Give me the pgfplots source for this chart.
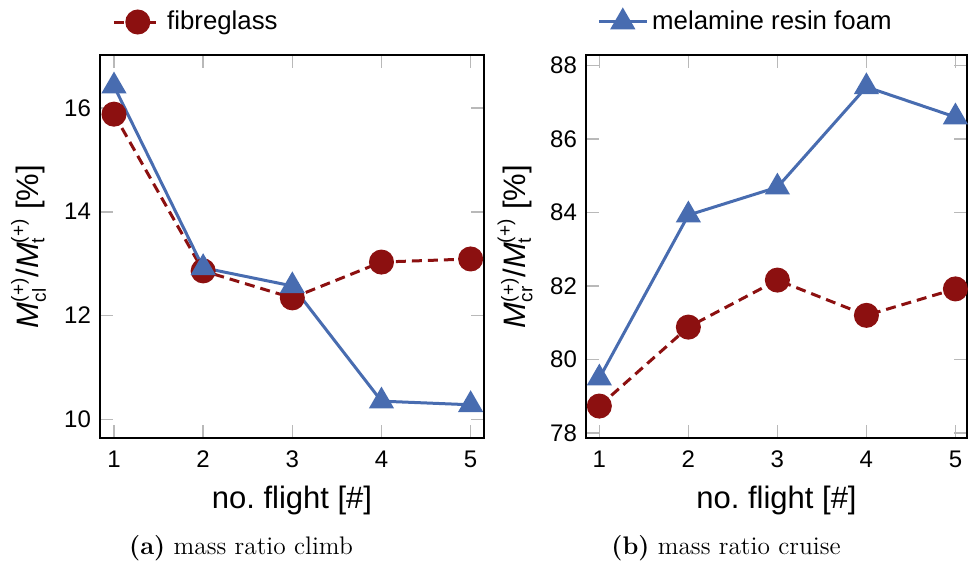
\documentclass[border=0pt]{standalone}
\usepackage{pgfplots}
\pgfplotsset{compat=1.18}
\usepackage{fontspec}
\newfontfamily\arial{Liberation Sans}
\definecolor{fgred}{RGB}{140,16,16}
\definecolor{mblue}{RGB}{72,108,176}
\pgfplotsset{
  myax/.style={
    scale only axis,
    height=191.5pt,
    axis line style={black, line width=0.6pt},
    tick style={gray!55, line width=0.8pt},
    major tick length=6.5pt,
    tick align=inside,
    xtick={1,2,3,4,5},
    xtick pos=both, ytick pos=both,
    /pgf/number format/assume math mode=true,
    tick label style={font=\arial\fontsize{12}{14}\selectfont},
    xticklabel style={yshift=-3pt},
    yticklabel style={xshift=-1pt},
    label style={font=\arial\fontsize{15.5}{17}\selectfont},
    xlabel={no.\ flight [\#]},
    xlabel style={at={(axis description cs:0.5,-0.162)}, anchor=center},
    ylabel style={at={(axis description cs:-0.186,0.5)}, anchor=center, rotate=0},
    legend style={draw=none, fill=none, font=\arial\fontsize{12.9}{14}\selectfont, inner sep=0pt},
    legend image code/.code={\draw[mark repeat=2,mark phase=2,##1] plot coordinates {(0cm,0cm)(0.42cm,0cm)(0.84cm,0cm)};},
  },
  fg/.style={fgred, line width=1.5pt, dash pattern=on 5pt off 3pt, mark=*, mark size=5.5pt, mark options={solid, fill=fgred, draw=fgred}},
  mf/.style={mblue, line width=1.5pt, solid, mark=triangle*, mark size=5.8pt, mark options={solid, fill=mblue, draw=mblue}},
}
\newcommand{\sm}[1]{\mbox{\arial\fontsize{9.5}{10}\selectfont #1}}
\begin{document}
\begin{tikzpicture}
\useasboundingbox (0,0) rectangle (485.5pt,281.5pt);
\begin{axis}[myax,
  at={(50pt,62.5pt)}, anchor=south west,
  width=192pt,
  xmin=0.843, xmax=5.15, ymin=9.64, ymax=17.02,
  ytick={10,12,14,16},
  ylabel={\textit{M}$^{\sm{(+)}}_{\sm{cl}}$/\textit{M}$^{\sm{(+)}}_{\sm{t}}$ [\%]},
  legend style={at={(axis description cs:0,1)}, anchor=west, xshift=6pt, yshift=16.5pt},
]
\addplot[fg] coordinates {(1,15.88) (2,12.86) (3,12.34) (4,13.03) (5,13.09)};
\addlegendentry{fibreglass}
\addplot[mf, forget plot] coordinates {(1,16.42) (2,12.92) (3,12.57) (4,10.35) (5,10.28)};
\end{axis}
\begin{axis}[myax,
  at={(293pt,62.5pt)}, anchor=south west,
  width=190.5pt,
  xmin=0.85, xmax=5.13, ymin=77.86, ymax=88.29,
  ytick={78,80,82,84,86,88},
  ylabel={\textit{M}$^{\sm{(+)}}_{\sm{cr}}$/\textit{M}$^{\sm{(+)}}_{\sm{t}}$ [\%]},
  legend style={at={(axis description cs:0,1)}, anchor=west, xshift=5.5pt, yshift=16.5pt},
]
\addplot[fg, forget plot] coordinates {(1,78.73) (2,80.88) (3,82.16) (4,81.20) (5,81.92)};
\addplot[mf] coordinates {(1,79.49) (2,83.93) (3,84.69) (4,87.42) (5,86.60)};
\addlegendentry{melamine resin foam}
\end{axis}
\node[font=\fontsize{12.7}{14}\selectfont] at (120.5pt,7.5pt) {\textbf{(a)} mass ratio climb};
\node[font=\fontsize{12.7}{14}\selectfont] at (363pt,7.5pt) {\textbf{(b)} mass ratio cruise};
\end{tikzpicture}
\end{document}
